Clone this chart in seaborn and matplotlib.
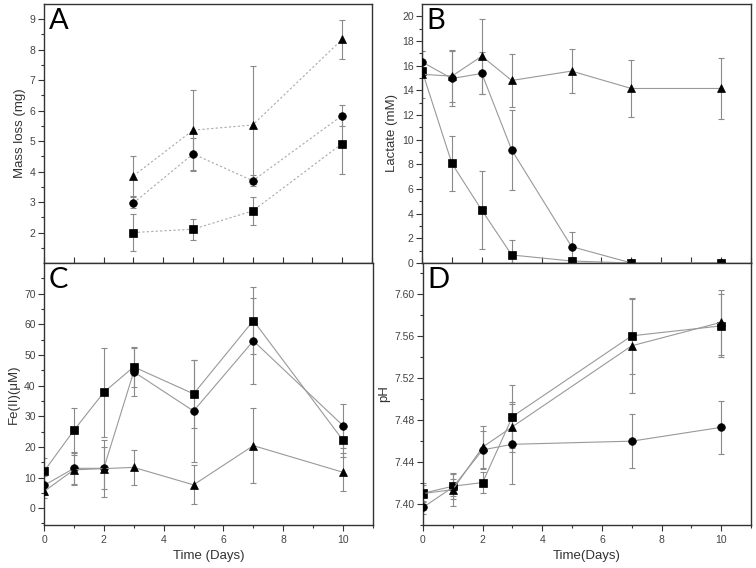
import numpy as np
import pandas as pd
import matplotlib
matplotlib.use("Agg")
import matplotlib.pyplot as plt
from matplotlib.ticker import MultipleLocator, FixedLocator, FormatStrFormatter
import seaborn as sns

# days sampled in each panel
days_a = [3, 5, 7, 10]
days_bc = [0, 1, 2, 3, 5, 7, 10]
days_d = [0, 1, 2, 3, 7, 10]

# A: mass loss (mg)
mass_sq = [2.0, 2.11, 2.71, 4.92]
mass_sq_err = [0.62, 0.35, 0.46, 1.0]
mass_ci = [2.97, 4.58, 3.70, 5.84]
mass_ci_err = [0.18, 0.53, 0.18, 0.33]
mass_tr = [3.86, 5.36, 5.53, 8.34]
mass_tr_err = [0.65, 1.33, 1.95, 0.63]

# B: lactate (mM)
lac_sq = [15.6, 8.07, 4.28, 0.65, 0.16, 0.0, 0.0]
lac_sq_err = [0.5, 2.2, 3.15, 1.25, 0.3, 0.0, 0.0]
lac_ci = [16.3, 14.96, 15.37, 9.16, 1.33, 0.0, 0.0]
lac_ci_err = [0.9, 2.2, 1.7, 3.25, 1.17, 0.0, 0.0]
lac_tr = [15.3, 15.15, 16.77, 14.8, 15.56, 14.15, 14.15]
lac_tr_err = [1.9, 2.1, 3.05, 2.15, 1.8, 2.3, 2.45]

# C: Fe(II) (uM)
fe_sq = [12.0, 25.4, 37.8, 46.1, 37.3, 61.2, 22.1]
fe_sq_err = [4.4, 7.3, 14.5, 6.5, 11.0, 10.9, 5.5]
fe_ci = [7.4, 13.0, 13.0, 44.5, 31.7, 54.6, 26.9]
fe_ci_err = [3.0, 5.2, 6.8, 7.8, 16.8, 14.1, 7.2]
fe_tr = [5.45, 12.5, 12.9, 13.3, 7.6, 20.4, 11.7]
fe_tr_err = [2.0, 5.0, 9.4, 5.8, 6.4, 12.3, 6.2]

# D: pH
ph_sq = [7.4103, 7.417, 7.4205, 7.4835, 7.5605, 7.570]
ph_sq_err = [0.008, 0.012, 0.010, 0.030, 0.036, 0.030]
ph_ci = [7.3968, 7.416, 7.4517, 7.457, 7.460, 7.4732]
ph_ci_err = [0.006, 0.008, 0.018, 0.038, 0.026, 0.025]
ph_tr = [7.410, 7.4138, 7.4543, 7.4738, 7.551, 7.5734]
ph_tr_err = [0.01, 0.016, 0.02, 0.024, 0.045, 0.031]

sns.set_style("ticks")
plt.rcParams['font.family'] = ['Liberation Sans', 'DejaVu Sans']

markers = {'sq': 's', 'ci': 'o', 'tr': '^'}
tick_col = '#444444'


def draw(ax, days, series, errs, dashed=False):
    frames = []
    for key, vals in series.items():
        frames.append(pd.DataFrame({'day': days, 'value': vals, 'series': key}))
    df = pd.concat(frames, ignore_index=True)
    for key, vals in series.items():
        ax.errorbar(days, vals, yerr=errs[key], fmt='none', ecolor='#8a8a8a',
                    elinewidth=0.8, capsize=2.5, capthick=0.8, zorder=2)
    if dashed:
        dashes = {k: (2, 2) for k in series}
        lc = '#aaaaaa'
    else:
        dashes = False
        lc = '#999999'
    sns.lineplot(data=df, x='day', y='value', style='series', markers=markers,
                 dashes=dashes, color=lc, linewidth=0.8, markersize=5.5,
                 markerfacecolor='black', markeredgecolor='black',
                 markeredgewidth=0.5, errorbar=None, legend=False, sort=False,
                 ax=ax, zorder=3)
    ax.set_xlim(0, 11)
    for s in ax.spines.values():
        s.set_color('#333333')
        s.set_linewidth(1.0)
    ax.tick_params(axis='y', which='major', direction='out', length=4,
                   width=0.8, colors='#333333', labelcolor=tick_col, labelsize=7.5, pad=2)
    ax.tick_params(axis='y', which='minor', direction='out', length=2,
                   width=0.8, colors='#333333')


fig = plt.figure(figsize=(7.56, 5.68), dpi=100)
axA = fig.add_axes([44/756, 1-263/568, 328/756, 259/568])
axB = fig.add_axes([422/756, 1-263/568, 329/756, 259/568])
axC = fig.add_axes([44/756, 1-525/568, 329/756, 262/568])
axD = fig.add_axes([423/756, 1-525/568, 328/756, 262/568])

draw(axA, days_a, {'sq': mass_sq, 'ci': mass_ci, 'tr': mass_tr},
     {'sq': mass_sq_err, 'ci': mass_ci_err, 'tr': mass_tr_err}, dashed=True)
draw(axB, days_bc, {'sq': lac_sq, 'ci': lac_ci, 'tr': lac_tr},
     {'sq': lac_sq_err, 'ci': lac_ci_err, 'tr': lac_tr_err})
draw(axC, days_bc, {'sq': fe_sq, 'ci': fe_ci, 'tr': fe_tr},
     {'sq': fe_sq_err, 'ci': fe_ci_err, 'tr': fe_tr_err})
draw(axD, days_d, {'sq': ph_sq, 'ci': ph_ci, 'tr': ph_tr},
     {'sq': ph_sq_err, 'ci': ph_ci_err, 'tr': ph_tr_err})

axA.set_ylim(1.0, 9.5)
axA.yaxis.set_major_locator(FixedLocator(np.arange(2, 10, 1)))
axA.yaxis.set_minor_locator(FixedLocator(np.arange(1.5, 9.5, 1)))
axA.set_ylabel('Mass loss (mg)', fontsize=9.5, color='#333333', labelpad=3)

axB.set_ylim(0, 21)
axB.yaxis.set_major_locator(FixedLocator(np.arange(0, 21, 2)))
axB.yaxis.set_minor_locator(FixedLocator(np.arange(1, 21, 2)))
axB.set_ylabel('Lactate (mM)', fontsize=9.5, color='#333333', labelpad=3)

axC.set_ylim(-5.5, 80)
axC.yaxis.set_major_locator(FixedLocator(np.arange(0, 71, 10)))
axC.yaxis.set_minor_locator(FixedLocator(np.arange(-5, 76, 10)))
axC.set_ylabel('Fe(II)(\u03bcM)', fontsize=9.5, color='#333333', labelpad=3)

axD.set_ylim(7.38, 7.63)
axD.yaxis.set_major_locator(FixedLocator(np.arange(7.40, 7.61, 0.04)))
axD.yaxis.set_minor_locator(FixedLocator(np.arange(7.38, 7.63, 0.04)))
axD.yaxis.set_major_formatter(FormatStrFormatter('%.2f'))
axD.set_ylabel('pH', fontsize=9.5, color='#333333', labelpad=3)

for ax in (axA, axB):
    ax.xaxis.set_major_locator(MultipleLocator(1))
    ax.tick_params(axis='x', which='major', direction='in', length=4, width=0.8,
                   colors='#333333', labelbottom=False)
    ax.set_xlabel('')

for ax, lab in ((axC, 'Time (Days)'), (axD, 'Time(Days)')):
    ax.xaxis.set_major_locator(MultipleLocator(2))
    ax.xaxis.set_minor_locator(MultipleLocator(1))
    ax.tick_params(axis='x', which='major', direction='out', length=4, width=0.8,
                   colors='#333333', labelcolor=tick_col, labelsize=7.5, pad=3)
    ax.tick_params(axis='x', which='minor', direction='out', length=2, width=0.8,
                   colors='#333333')
    ax.set_xlabel(lab, fontsize=9.5, color='#333333', labelpad=4)

for ax, letter in ((axA, 'A'), (axB, 'B'), (axC, 'C'), (axD, 'D')):
    ax.text(0.014, 0.985, letter, transform=ax.transAxes, ha='left', va='top',
            fontsize=21, family=['Lato', 'DejaVu Sans'], color='black')

fig.savefig('out.png', dpi=100)
